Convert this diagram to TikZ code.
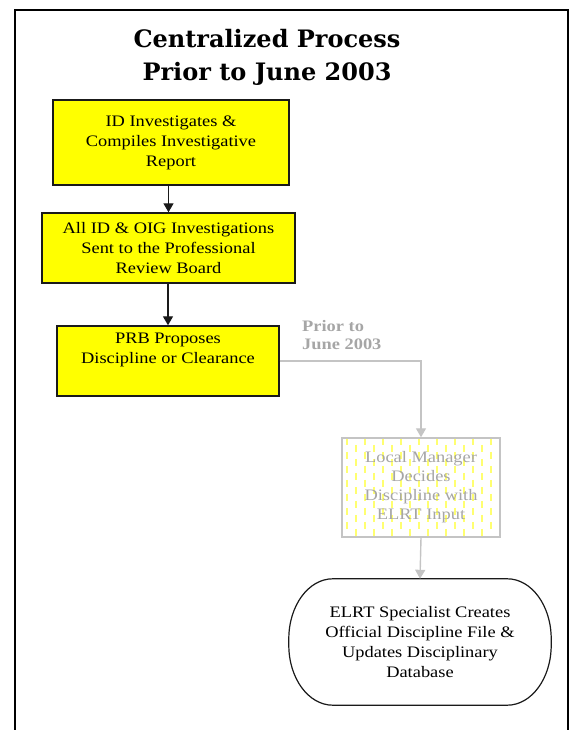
\documentclass[tikz,border=0pt]{standalone}
\usepackage{fontspec}
\setmainfont[FakeStretch=1.15]{Liberation Serif}
\newfontfamily\titlefont{DejaVu Serif}
\usetikzlibrary{arrows.meta,calc,positioning}
\definecolor{FlowLine}{HTML}{1A1A1A}
\definecolor{FlowYellow}{HTML}{FFFF00}
\definecolor{FlowPale}{HTML}{FFFF70}
\definecolor{FlowGrey}{HTML}{C4C4C4}
\definecolor{FlowGreyText}{HTML}{A6A6A6}

\begin{document}
\begin{tikzpicture}[x=1pt,y=1pt,
    procbox/.style={draw=FlowLine,line width=1.4pt,fill=FlowYellow,
      align=center,inner sep=0pt,font=\fontsize{16}{20}\selectfont},
    palebox/.style={draw=FlowGrey,line width=1.4pt,fill=white,
      align=center,inner sep=0pt,text=FlowGreyText,
      font=\fontsize{16}{19}\selectfont,
      path picture={
        \foreach \i in {0,...,17}{
          \pgfmathsetmacro\phase{mod(\i,2)*7}
          \draw[FlowPale,line width=1.3pt,dash pattern=on 7pt off 7pt,
            dash phase=\phase]
            ([xshift={\i*9+5}]path picture bounding box.north west) --
            ([xshift={\i*9+5}]path picture bounding box.south west);
        }}},
    endbox/.style={align=center,inner sep=0pt,
      font=\fontsize{16}{20}\selectfont},
    blackarrow/.style={FlowLine,line width=1.4pt,
      -{Triangle[width=10pt,length=9pt]}},
    greyarrow/.style={FlowGrey,line width=1.4pt,
      -{Triangle[width=10pt,length=9pt]}}]
  \useasboundingbox (0,0) rectangle (572,730);
  \draw[line width=2.6pt] (15,-20) -- (15,720) -- (568,720) -- (568,-20);

  \node[align=center,inner sep=0pt,
    font=\titlefont\bfseries\fontsize{24}{33}\selectfont]
    (title) at (267,673) {Centralized Process\\Prior to June 2003};

  \node[procbox,minimum width=236pt,minimum height=85pt]
    (invest) at (171,587.5) {ID Investigates \&\\Compiles Investigative\\Report};
  \node[procbox,minimum width=253pt,minimum height=70pt]
    (sent) at (168.5,482) {All ID \& OIG Investigations\\Sent to the Professional\\Review Board};
  \node[procbox,minimum width=222pt,minimum height=70pt]
    (prb) at (168,369) {PRB Proposes\\Discipline or Clearance\\\strut};

  \node[anchor=west,align=left,inner sep=0pt,text=FlowGreyText,
    font=\bfseries\fontsize{16}{17.6}\selectfont]
    (prior) at (302,395) {Prior to\\June 2003};

  \node[palebox,minimum width=158pt,minimum height=99pt]
    (decide) at (421,242.5) {Local Manager\\Decides\\Discipline with\\ELRT Input};

  \node[endbox,minimum width=262pt,minimum height=126pt]
    (file) at (420,88) {ELRT Specialist Creates\\Official Discipline File \&\\Updates Disciplinary\\Database};
  % stadium-like outline round the last node
  \draw[FlowLine,line width=1.2pt]
    ([xshift=44pt]file.north west) -- ([xshift=-44pt]file.north east)
    arc[start angle=90,end angle=0,x radius=44,y radius=60]
    -- ([yshift=60pt]file.south east)
    arc[start angle=0,end angle=-90,x radius=44,y radius=60]
    -- ([xshift=44pt]file.south west)
    arc[start angle=270,end angle=180,x radius=44,y radius=60]
    -- ([yshift=-60pt]file.north west)
    arc[start angle=180,end angle=90,x radius=44,y radius=60] -- cycle;

  \draw[blackarrow] (invest.south -| sent.north) -- (sent.north);
  \draw[blackarrow] (sent.south -| prb.north) -- (prb.north);
  \draw[greyarrow] (prb.east) -| (decide.north);
  \draw[greyarrow] (decide.south) -- (file.north);
\end{tikzpicture}
\end{document}
